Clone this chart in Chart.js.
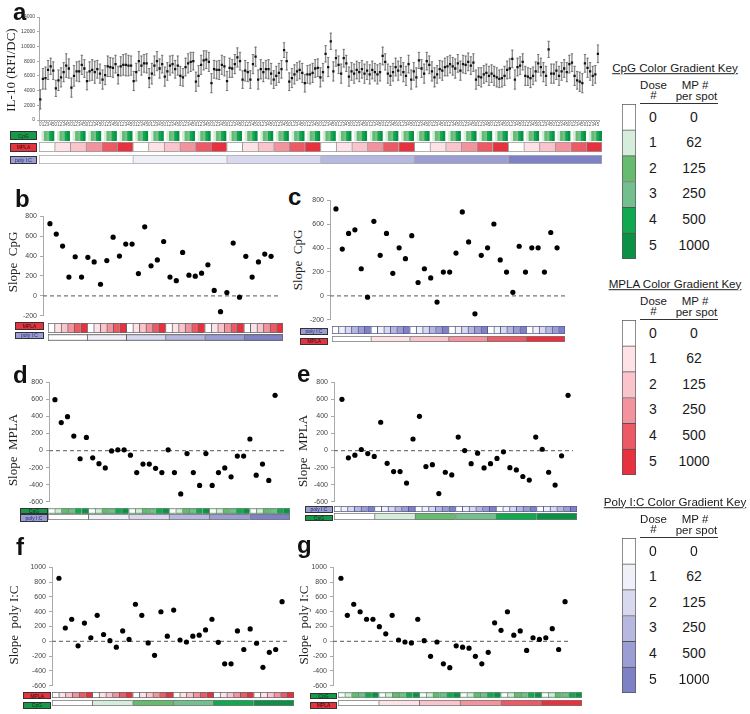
<!DOCTYPE html>
<html>
<head>
<meta charset="UTF-8">
<title>IL-10 response and adjuvant slopes</title>
<script src="https://cdn.jsdelivr.net/npm/chart.js"></script>
<style>
  body { margin: 0; background: #fff; font-family: "Liberation Sans", Arial, sans-serif; }
  #fig { position: relative; width: 750px; height: 714px; overflow: hidden; }
  .letter { position: absolute; font: bold 24px "Liberation Sans", Arial, sans-serif; line-height: 24px; color: #111; }
  .ytitle { position: absolute; font: 13px "Liberation Serif", "Times New Roman", serif; white-space: pre;
            line-height: 1; color: #222; transform: translate(-50%, -50%) rotate(-90deg); }
  .txt { position: absolute; white-space: nowrap; line-height: 1; color: #1a1a1a; transform: translate(-50%, -50%); }
  .tag { position: absolute; box-sizing: border-box; border: 1px solid #333; font: 5px "Liberation Sans", Arial, sans-serif;
         display: flex; align-items: center; justify-content: center; overflow: hidden; }
  canvas { position: absolute; }
</style>
</head>
<body>
<div id="fig"></div>
<script>
// ---------- data ----------
const doseLevels = [0, 1, 2, 3, 4, 5];
const mpPerSpot = [0, 62, 125, 250, 500, 1000];

const cpgColors  = ['#ffffff', '#d7eddb', '#66bb6f', '#73bf8d', '#10a94f', '#0a9146'];
const mplaColors = ['#ffffff', '#fde3e7', '#f9c4cb', '#f2939d', '#ec5a66', '#e8313e'];
const polyColors = ['#ffffff', '#f0f0f8', '#d8d8ee', '#b7b8df', '#9c9ed3', '#7e81c5'];

// panel a: IL-10 mean and error, CpG cycles fastest, then MPLA, then poly I:C
const il10Mean = [
  2800, 5600, 5700, 6800, 7300, 6700,   4300, 5400, 5800, 6500, 7400, 7000,
  4400, 6000, 6600, 6600, 7500, 7000,   5300, 6600, 6800, 6500, 6900, 6300,
  5500, 6100, 7300, 7200, 7100, 7600,   6100, 7300, 7500, 7500, 7400, 7400,
  5300, 6500, 8000, 7400, 7700, 7700,   5700, 6300, 7400, 8000, 7000, 7600,
  5900, 6600, 7400, 7600, 6900, 7400,   6000, 5800, 7200, 7700, 7900, 8000,
  5200, 6000, 7500, 8100, 8200, 7900,   5000, 6900, 6800, 6800, 7500, 7300,
  5300, 7100, 7000, 7600, 8500, 8000,   5500, 6700, 6500, 5500, 7600, 8600,
  5500, 6900, 6500, 6900, 6900, 6300,   5500, 6000, 6400, 6900, 9500, 8000,
  5200, 5700, 6200, 6600, 6800, 6400,   5000, 6200, 6200, 6400, 7000, 7100,
  5800, 6500, 9000, 7200, 10700, 6600,  8400, 7500, 6300, 8400, 7700, 5900,
  6600, 6300, 6800, 6500, 6900, 6300,   6700, 6200, 6800, 6500, 6200, 6500,
  8700, 7900, 6300, 6000, 6500, 7200,   6700, 7300, 6500, 6000, 7600, 5500,
  6600, 5800, 8100, 7000, 6300, 8000,   7500, 6600, 5800, 6200, 6900, 6700,
  7200, 7300, 7600, 7300, 7000, 7700,   6700, 7600, 7500, 7900, 7400, 7800,
  5500, 5900, 5800, 6200, 6400, 6000,   6300, 6000, 5800, 5600, 5700, 6000,
  6800, 7000, 8300, 5500, 7200, 7400,   7900, 6000, 5900, 5700, 6000, 6600,
  7700, 7200, 6500, 6000, 9600, 6300,   6300, 6700, 6000, 6600, 7000, 6500,
  7600, 7800, 6000, 5400, 5200, 5000,   7700, 7100, 6600, 6000, 6200, 9000
];
const il10Err = [
  1300, 1400, 1500, 1300, 1100, 1200,   1100, 1400, 1300, 1300, 1600, 1300,
  1300, 1400, 1300, 1400, 1300, 1200,   1200, 1300, 1400, 1500, 1200, 1300,
  1300, 1300, 1400, 1300, 1300, 1200,   1200, 1300, 1400, 1500, 1400, 1300,
  1300, 1200, 1300, 1300, 1200, 1300,   1300, 1400, 1300, 1300, 1300, 1200,
  1300, 1200, 1300, 1200, 1200, 1300,   1300, 1200, 1200, 1300, 1300, 1200,
  1300, 1400, 1300, 1300, 1200, 1300,   1300, 1200, 1200, 1300, 1300, 1300,
  1300, 1300, 1200, 1300, 1300, 1200,   1200, 1400, 1300, 1200, 1300, 1300,
  1300, 1300, 1300, 1200, 1300, 1400,   1200, 1300, 1300, 1200, 1000, 1200,
  1200, 1300, 1300, 1200, 1200, 1300,   1200, 1200, 1300, 1300, 1200, 1200,
  1300, 1200, 1100, 1300, 1100, 1300,   1100, 1200, 1300, 1200, 1100, 1300,
  1200, 1300, 1200, 1300, 1200, 1300,   1200, 1300, 1200, 1200, 1300, 1200,
  1200, 1100, 1300, 1300, 1200, 1200,   1300, 1200, 1300, 1300, 1200, 1300,
  1200, 1300, 1100, 1200, 1300, 1200,   1200, 1300, 1300, 1200, 1200, 1300,
  1200, 1300, 1200, 1200, 1300, 1200,   1300, 1200, 1200, 1200, 1200, 1200,
  1300, 1200, 1300, 1200, 1200, 1300,   1200, 1300, 1300, 1200, 1200, 1300,
  1200, 1300, 1200, 1300, 1200, 1200,   1100, 1300, 1200, 1300, 1200, 1300,
  1200, 1200, 1300, 1300, 1100, 1300,   1300, 1200, 1300, 1200, 1200, 1300,
  1200, 1200, 1300, 1200, 1300, 1300,   1200, 1300, 1200, 1300, 1200, 1200
];

// panels b-g: slopes (36 points each)
const slopeCpgB = [725, 621, 500, 189, 393, 189, 387, 341, 117, 354, 589, 400,
  520, 520, 224, 693, 302, 361, 546, 189, 153, 436, 208, 198,
  228, 312, 55, -159, 33, 530, -13, 397, 189, 341, 420, 397];
const slopeCpgC = [727, 391, 522, 552, 227, -11, 623, 339, 522, 189, 402, 311,
  503, 112, 227, 150, -52, 199, 199, 358, 702, 451, -150, 339,
  402, 601, 301, 199, 30, 415, 199, 402, 402, 199, 530, 402];
const slopeMplaD = [596, 327, 396, 169, -96, 154, -85, -154, -204, -4, 8, 8,
  -54, -258, -158, -158, -208, -258, 8, -258, -508, -35, -258, -408,
  -35, -408, -258, -204, -308, -65, -65, 135, -288, -158, -350, 646];
const slopeMplaE = [600, -85, -54, 12, -35, -69, 331, -150, -246, -246, -381, 135,
  400, -188, -165, -504, -254, -285, 158, 0, -154, -31, -204, -154,
  -92, -15, -200, -227, -304, -346, 158, 15, -254, -404, -62, 646];
const slopePolyF = [851, 180, 298, -61, 246, 48, 351, 92, 9, -79, 140, 26,
  500, 351, -22, -189, 399, 70, 421, 18, -9, 70, 83, 154,
  298, -13, -303, -303, 140, -110, 167, -26, -351, -149, -110, 535];
const slopePolyG = [851, 351, 500, 399, 298, 298, 197, 101, 351, 18, -9, -22,
  298, 9, -202, -9, -303, -355, -61, -79, -92, -202, -303, -149,
  250, 149, 399, 83, 140, -123, 48, 26, 48, 171, -110, 535];

// ---------- helpers ----------
const fig = document.getElementById('fig');
const baseOpts = { responsive: false, animation: false, devicePixelRatio: 1, events: [] };
const noPlugins = { legend: { display: false }, tooltip: { enabled: false } };
const plainNum = v => String(v);

function makeCanvas(left, top, w, h) {
  const c = document.createElement('canvas');
  c.width = w; c.height = h;
  c.style.left = left + 'px'; c.style.top = top + 'px';
  c.style.width = w + 'px'; c.style.height = h + 'px';
  fig.appendChild(c);
  return c;
}
function addText(txt, cx, cy, size, extra) {
  const d = document.createElement('div');
  d.className = 'txt';
  d.textContent = txt;
  d.style.left = cx + 'px'; d.style.top = cy + 'px';
  d.style.fontSize = size + 'px';
  if (extra) Object.assign(d.style, extra);
  fig.appendChild(d);
}
function letter(ch, x, y) {
  const d = document.createElement('div');
  d.className = 'letter'; d.textContent = ch;
  d.style.left = x + 'px'; d.style.top = y + 'px';
  fig.appendChild(d);
}
function yTitle(txt, cx, cy) {
  const d = document.createElement('div');
  d.className = 'ytitle'; d.textContent = txt;
  d.style.left = cx + 'px'; d.style.top = cy + 'px';
  fig.appendChild(d);
}
const tagStyle = {
  cpg:  { bg: '#17994a', fg: '#0b2d14', text: 'CpG' },
  mpla: { bg: '#e3343f', fg: '#3a0a0d', text: 'MPLA' },
  poly: { bg: '#9a9dd3', fg: '#262a6a', text: 'poly I:C' }
};
function tag(kind, x, y, w, h) {
  const s = tagStyle[kind];
  const d = document.createElement('div');
  d.className = 'tag'; d.textContent = s.text;
  Object.assign(d.style, { left: x + 'px', top: y + 'px', width: w + 'px', height: h + 'px', background: s.bg, color: s.fg });
  fig.appendChild(d);
}

// colour strip: one bar per cell
function strip(x, y, w, h, doses, colors, border) {
  const n = doses.length;
  new Chart(makeCanvas(x, y, w, h), {
    type: 'bar',
    data: {
      labels: doses.map((d, i) => i),
      datasets: [{
        data: doses.map(() => 1),
        backgroundColor: doses.map(d => colors[d]),
        borderColor: border || '#777',
        borderWidth: border === null ? 0 : (ctx => ({ top: 1, bottom: 1, left: 1, right: ctx.dataIndex === n - 1 ? 1 : 0 })),
        borderSkipped: false,
        barPercentage: 1, categoryPercentage: 1
      }]
    },
    options: Object.assign({}, baseOpts, {
      plugins: noPlugins,
      layout: { padding: 0 },
      scales: { x: { display: false }, y: { display: false, min: 0, max: 1 } }
    })
  });
}

// slope scatter panel
function slopePanel(vals, yMin, yMax, g) {
  const axisW = 24, padT = 6, padB = 6, padR = 2;
  const sp = (g.x35 - g.x0) / 35;
  const xMin = -(g.x0 - g.axis) / sp;
  const xMax = 35 + (g.right - g.x35) / sp;
  const cv = makeCanvas(g.axis - axisW, g.top - padT, axisW + (g.right - g.axis) + padR, padT + (g.bottom - g.top) + padB);
  new Chart(cv, {
    type: 'scatter',
    data: {
      datasets: [
        { data: vals.map((v, i) => ({ x: i, y: v })), backgroundColor: '#000', borderColor: '#000', pointRadius: 2.6, borderWidth: 0 },
        { type: 'line', data: [{ x: xMin, y: 0 }, { x: xMax, y: 0 }], borderColor: '#777', borderWidth: 1.3,
          borderDash: [4, 3], pointRadius: 0 }
      ]
    },
    options: Object.assign({}, baseOpts, {
      plugins: noPlugins,
      layout: { padding: { top: padT, bottom: padB, right: padR, left: 0 } },
      scales: {
        x: { type: 'linear', display: false, min: xMin, max: xMax },
        y: {
          min: yMin, max: yMax,
          ticks: { stepSize: 200, callback: plainNum, font: { size: 7, family: '"Liberation Sans", Arial, sans-serif' }, color: '#444', padding: 3 },
          grid: { drawOnChartArea: false, tickLength: 3, color: '#aaa' },
          border: { color: '#aaa' },
          afterFit: s => { s.width = axisW; }
        }
      }
    })
  });
}

// ---------- panel a ----------
const il10Labels = il10Mean.map((m, i) => String(doseLevels[i % 6]));
(function () {
  const axisW = 18, padT = 5, padR = 2, xH = 8;
  const L = 39, R = 602, T = 17, B = 120;
  new Chart(makeCanvas(L - axisW, T - padT, axisW + (R - L) + padR, padT + (B - T) + xH), {
    type: 'bar',
    data: {
      labels: il10Labels,
      datasets: [
        { type: 'line', data: il10Mean, showLine: false, pointStyle: 'rect', pointRadius: 1.6,
          pointBackgroundColor: '#111', pointBorderColor: '#111', pointBorderWidth: 0 },
        { type: 'line', data: il10Mean.map((m, i) => m + il10Err[i]), showLine: false, pointStyle: 'line',
          pointRadius: 1.2, pointBorderColor: '#666', pointBorderWidth: 0.8 },
        { type: 'line', data: il10Mean.map((m, i) => m - il10Err[i]), showLine: false, pointStyle: 'line',
          pointRadius: 1.2, pointBorderColor: '#666', pointBorderWidth: 0.8 },
        { type: 'bar', data: il10Mean.map((m, i) => [m - il10Err[i], m + il10Err[i]]),
          backgroundColor: '#8a8a8a', barThickness: 0.7, grouped: false }
      ]
    },
    options: Object.assign({}, baseOpts, {
      plugins: noPlugins,
      layout: { padding: { top: padT, right: padR, left: 0, bottom: 0 } },
      scales: {
        x: {
          ticks: { autoSkip: false, maxRotation: 0, minRotation: 0, padding: 0, color: '#555',
                   font: { size: 4.5, family: '"Liberation Sans", Arial, sans-serif' } },
          grid: { drawOnChartArea: false, tickLength: 2, color: '#aaa' },
          border: { color: '#aaa' },
          afterFit: s => { s.height = xH; }
        },
        y: {
          min: 0, max: 14000,
          ticks: { stepSize: 2000, callback: plainNum, padding: 2, color: '#444', font: { size: 5, family: '"Liberation Sans", Arial, sans-serif' } },
          grid: { drawOnChartArea: false, tickLength: 2, color: '#aaa' },
          border: { color: '#aaa' },
          afterFit: s => { s.width = axisW; }
        }
      }
    })
  });
})();
letter('a', 13, 0);
yTitle('IL-10 (RFI/DC)', 10, 70);
tag('cpg', 10, 131, 27, 9);
tag('mpla', 10, 142.5, 27, 9);
tag('poly', 10, 156, 27, 8);
strip(39, 131, 563, 10, il10Mean.map((m, i) => doseLevels[i % 6]), cpgColors, null);
strip(39, 142, 563, 10, il10Mean.filter((m, i) => i % 6 === 0).map((m, i) => doseLevels[i % 6]), mplaColors, '#999');
strip(39, 155, 563, 9, doseLevels, polyColors, '#aaa');

const cycle36 = slopeCpgB.map((v, i) => doseLevels[i % 6]);

// ---------- panel b ----------
slopePanel(slopeCpgB, -200, 800, { axis: 43, right: 283, top: 215, bottom: 317, x0: 50, x35: 273 });
letter('b', 15, 187);
yTitle('Slope  CpG', 12, 262);
tag('mpla', 15, 322, 29, 8);
tag('poly', 15, 331.5, 29, 7.5);
strip(48, 323, 235, 10, cycle36, mplaColors, '#666');
strip(48, 334, 235, 6.5, doseLevels, polyColors, '#666');

// ---------- panel c ----------
slopePanel(slopeCpgC, -200, 800, { axis: 330, right: 568, top: 199, bottom: 321, x0: 336, x35: 559 });
letter('c', 288, 185);
yTitle('Slope  CpG', 297, 260);
tag('poly', 300, 327.5, 28, 7);
tag('mpla', 300, 337.5, 28, 7);
strip(332, 326, 233, 8, cycle36, polyColors, '#5a5c8a');
strip(332, 335.5, 233, 6, doseLevels, mplaColors, '#777');

// ---------- panel d ----------
slopePanel(slopeMplaD, -600, 800, { axis: 49, right: 286, top: 381, bottom: 503, x0: 55, x35: 277 });
letter('d', 13, 363);
yTitle('Slope  MPLA', 12, 450);
tag('cpg', 20, 507.5, 28, 6);
tag('poly', 20, 514, 28, 8);
strip(48, 508, 242, 5.5, cycle36, cpgColors, '#6a8f74');
strip(48, 514, 242, 6, doseLevels, polyColors, '#777');

// ---------- panel e ----------
slopePanel(slopeMplaE, -600, 800, { axis: 334, right: 575, top: 381, bottom: 503, x0: 342, x35: 570 });
letter('e', 297, 362);
yTitle('Slope  MPLA', 302, 451);
tag('poly', 305, 506, 28, 6.5);
tag('cpg', 305, 514.5, 28, 6.5);
strip(334, 506, 243, 6, cycle36, polyColors, '#5a5c8a');
strip(334, 513, 243, 7, doseLevels, cpgColors, '#777');

// ---------- panel f ----------
slopePanel(slopePolyF, -600, 1000, { axis: 52, right: 290, top: 566, bottom: 687, x0: 59, x35: 284 });
letter('f', 16, 535);
yTitle('Slope  poly I:C', 13, 625);
tag('mpla', 23, 692, 28, 7);
tag('cpg', 23, 701.5, 28, 7);
strip(52, 692, 242, 6, cycle36, mplaColors, '#666');
strip(52, 700, 242, 6, doseLevels, cpgColors, '#777');

// ---------- panel g ----------
slopePanel(slopePolyG, -600, 1000, { axis: 333, right: 573, top: 566, bottom: 687, x0: 341, x35: 567 });
letter('g', 297, 533);
yTitle('Slope  poly I:C', 303, 625);
tag('cpg', 310, 692.5, 27, 6);
tag('mpla', 310, 701.5, 27, 7.5);
strip(338, 692, 244, 5.5, cycle36, cpgColors, '#6a8f74');
strip(338, 700, 244, 6, doseLevels, mplaColors, '#777');

// ---------- colour gradient keys ----------
function gradientKey(title, colors, rowsTop) {
  const rowH = 25.6;
  addText(title, 675, rowsTop - 36.5, 11.6, { textDecoration: 'underline' });
  addText('Dose', 653.5, rowsTop - 18.5, 11.5);
  addText('#', 653.5, rowsTop - 8.5, 11.5);
  addText('MP #', 695, rowsTop - 18.5, 11.5);
  addText('per spot', 696.5, rowsTop - 7, 11.5);
  const ln = document.createElement('div');
  Object.assign(ln.style, { position: 'absolute', left: '640px', top: (rowsTop - 1) + 'px', width: '78px', height: '0', borderTop: '1px solid #333' });
  fig.appendChild(ln);
  doseLevels.forEach((d, i) => {
    addText(String(d), 653, rowsTop + 12.5 + rowH * i, 14);
    addText(String(mpPerSpot[i]), 694, rowsTop + 12.5 + rowH * i, 14);
  });
  const n = doseLevels.length;
  new Chart(makeCanvas(622, rowsTop, 14, Math.round(rowH * n) + 1), {
    type: 'bar',
    data: {
      labels: doseLevels.map(String),
      datasets: [{
        data: doseLevels.map(() => 1),
        backgroundColor: doseLevels.map(d => colors[d]),
        borderColor: '#555',
        borderWidth: ctx => ({ top: 1, left: 1, right: 1, bottom: ctx.dataIndex === n - 1 ? 1 : 0 }),
        borderSkipped: false,
        barPercentage: 1, categoryPercentage: 1
      }]
    },
    options: Object.assign({}, baseOpts, {
      indexAxis: 'y',
      plugins: noPlugins,
      layout: { padding: 0 },
      scales: { x: { display: false, min: 0, max: 1 }, y: { display: false } }
    })
  });
}
gradientKey('CpG Color Gradient Key', cpgColors, 104);
gradientKey('MPLA Color Gradient Key', mplaColors, 320);
gradientKey('Poly I:C Color Gradient Key', polyColors, 538);
</script>
</body>
</html>
